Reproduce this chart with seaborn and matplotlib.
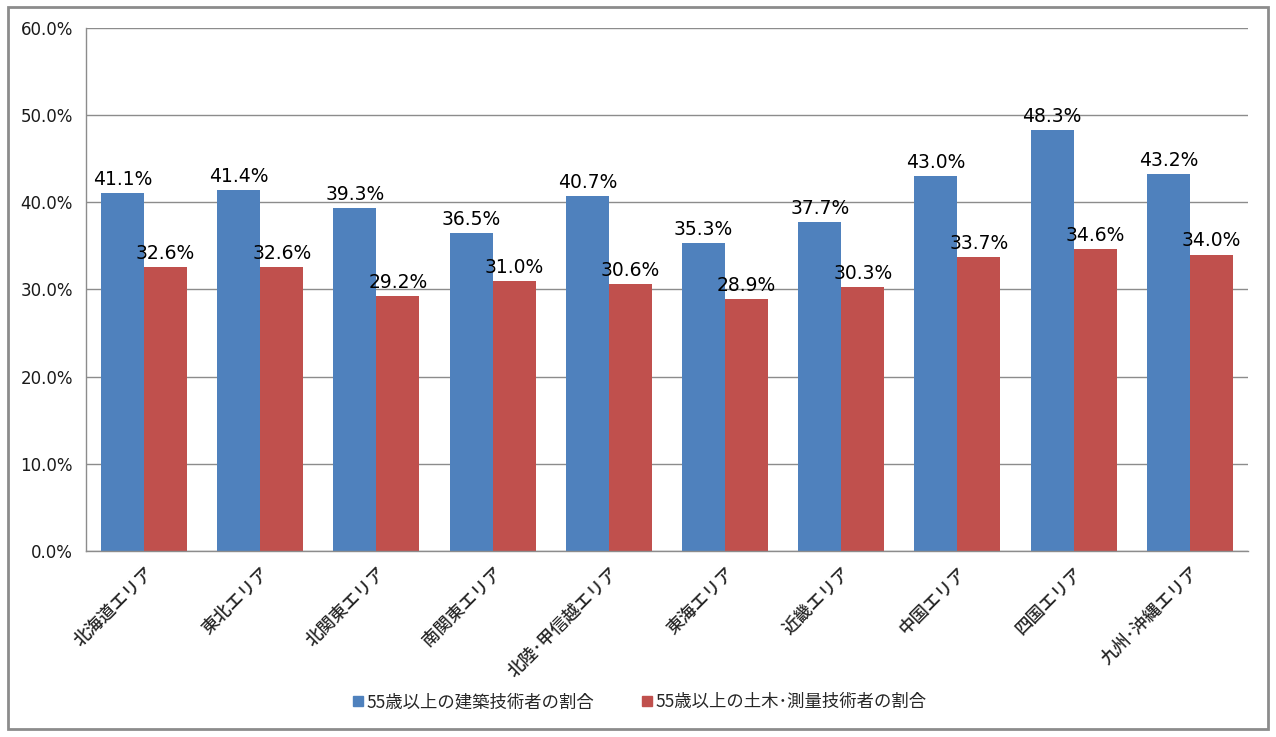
import pandas as pd
import matplotlib.pyplot as plt
import seaborn as sns
import numpy as np
from matplotlib.lines import Line2D
from matplotlib.patches import Rectangle
from matplotlib.ticker import PercentFormatter

# data
areas = ['北海道エリア', '東北エリア', '北関東エリア', '南関東エリア', '北陸･甲信越エリア',
         '東海エリア', '近畿エリア', '中国エリア', '四国エリア', '九州･沖縄エリア']
kenchiku = [41.1, 41.4, 39.3, 36.5, 40.7, 35.3, 37.7, 43.0, 48.3, 43.2]
doboku = [32.6, 32.6, 29.2, 31.0, 30.6, 28.9, 30.3, 33.7, 34.6, 34.0]
series = ['55歳以上の建築技術者の割合', '55歳以上の土木･測量技術者の割合']
colors = ['#4F81BD', '#C0504D']

df = pd.DataFrame({
    'area': areas * 2,
    'value': kenchiku + doboku,
    'series': [series[0]] * len(areas) + [series[1]] * len(areas),
})

sns.set_style('white')
plt.rcParams['font.family'] = ['DejaVu Sans', 'Noto Sans CJK JP']

fig = plt.figure(figsize=(12.76, 7.37), dpi=100)
ax = fig.add_axes([0.0674, 0.2524, 0.9106, 0.7096])

sns.barplot(data=df, x='area', y='value', hue='series', hue_order=series,
            palette=colors, width=0.74, saturation=1, legend=False,
            linewidth=0, ax=ax)

# data labels
for cont in ax.containers:
    ax.bar_label(cont, fmt='%.1f%%', padding=3, fontsize=13.5, color='black')

ax.set_ylim(0, 60)
ax.set_yticks(np.arange(0, 61, 10))
ax.yaxis.set_major_formatter(PercentFormatter(decimals=1))
ax.set_xlim(-0.5, len(areas) - 0.5)
ax.grid(axis='y', color='#8c8c8c', linewidth=1)
ax.set_axisbelow(True)
ax.set_xlabel('')
ax.set_ylabel('')

for s in ['top', 'right']:
    ax.spines[s].set_visible(False)
for s in ['left', 'bottom']:
    ax.spines[s].set_color('#8c8c8c')
    ax.spines[s].set_linewidth(1)

# ticks at category boundaries
ax.set_xticks(np.arange(-0.5, len(areas), 1), minor=True)
ax.tick_params(axis='x', which='minor', length=6, color='#8c8c8c', width=1, direction='out')
ax.tick_params(axis='x', which='major', length=0, pad=9)
ax.tick_params(axis='y', length=6, color='#8c8c8c', width=1, direction='out',
               labelsize=12, labelcolor='#1a1a1a')
ax.set_xticks(range(len(areas)))
ax.set_xticklabels(areas, rotation=45, ha='right', rotation_mode='anchor',
                   fontsize=12.5, fontweight='medium', family=['Noto Sans CJK JP'])

# legend at bottom
handles = [Line2D([], [], marker='s', linestyle='', markersize=7, color=c) for c in colors]
fig.legend(handles, series, loc='center', bbox_to_anchor=(0.5, 0.047), ncol=2,
           frameon=False, prop={'family': 'Noto Sans CJK JP', 'size': 12.5},
           handletextpad=0.0, columnspacing=2.5, handlelength=1.0)

# outer frame
fig.patches.append(Rectangle((0.006, 0.011), 0.988, 0.98, transform=fig.transFigure,
                             fill=False, edgecolor='#8c8c8c', linewidth=2))

plt.savefig('out.png', dpi=100)
